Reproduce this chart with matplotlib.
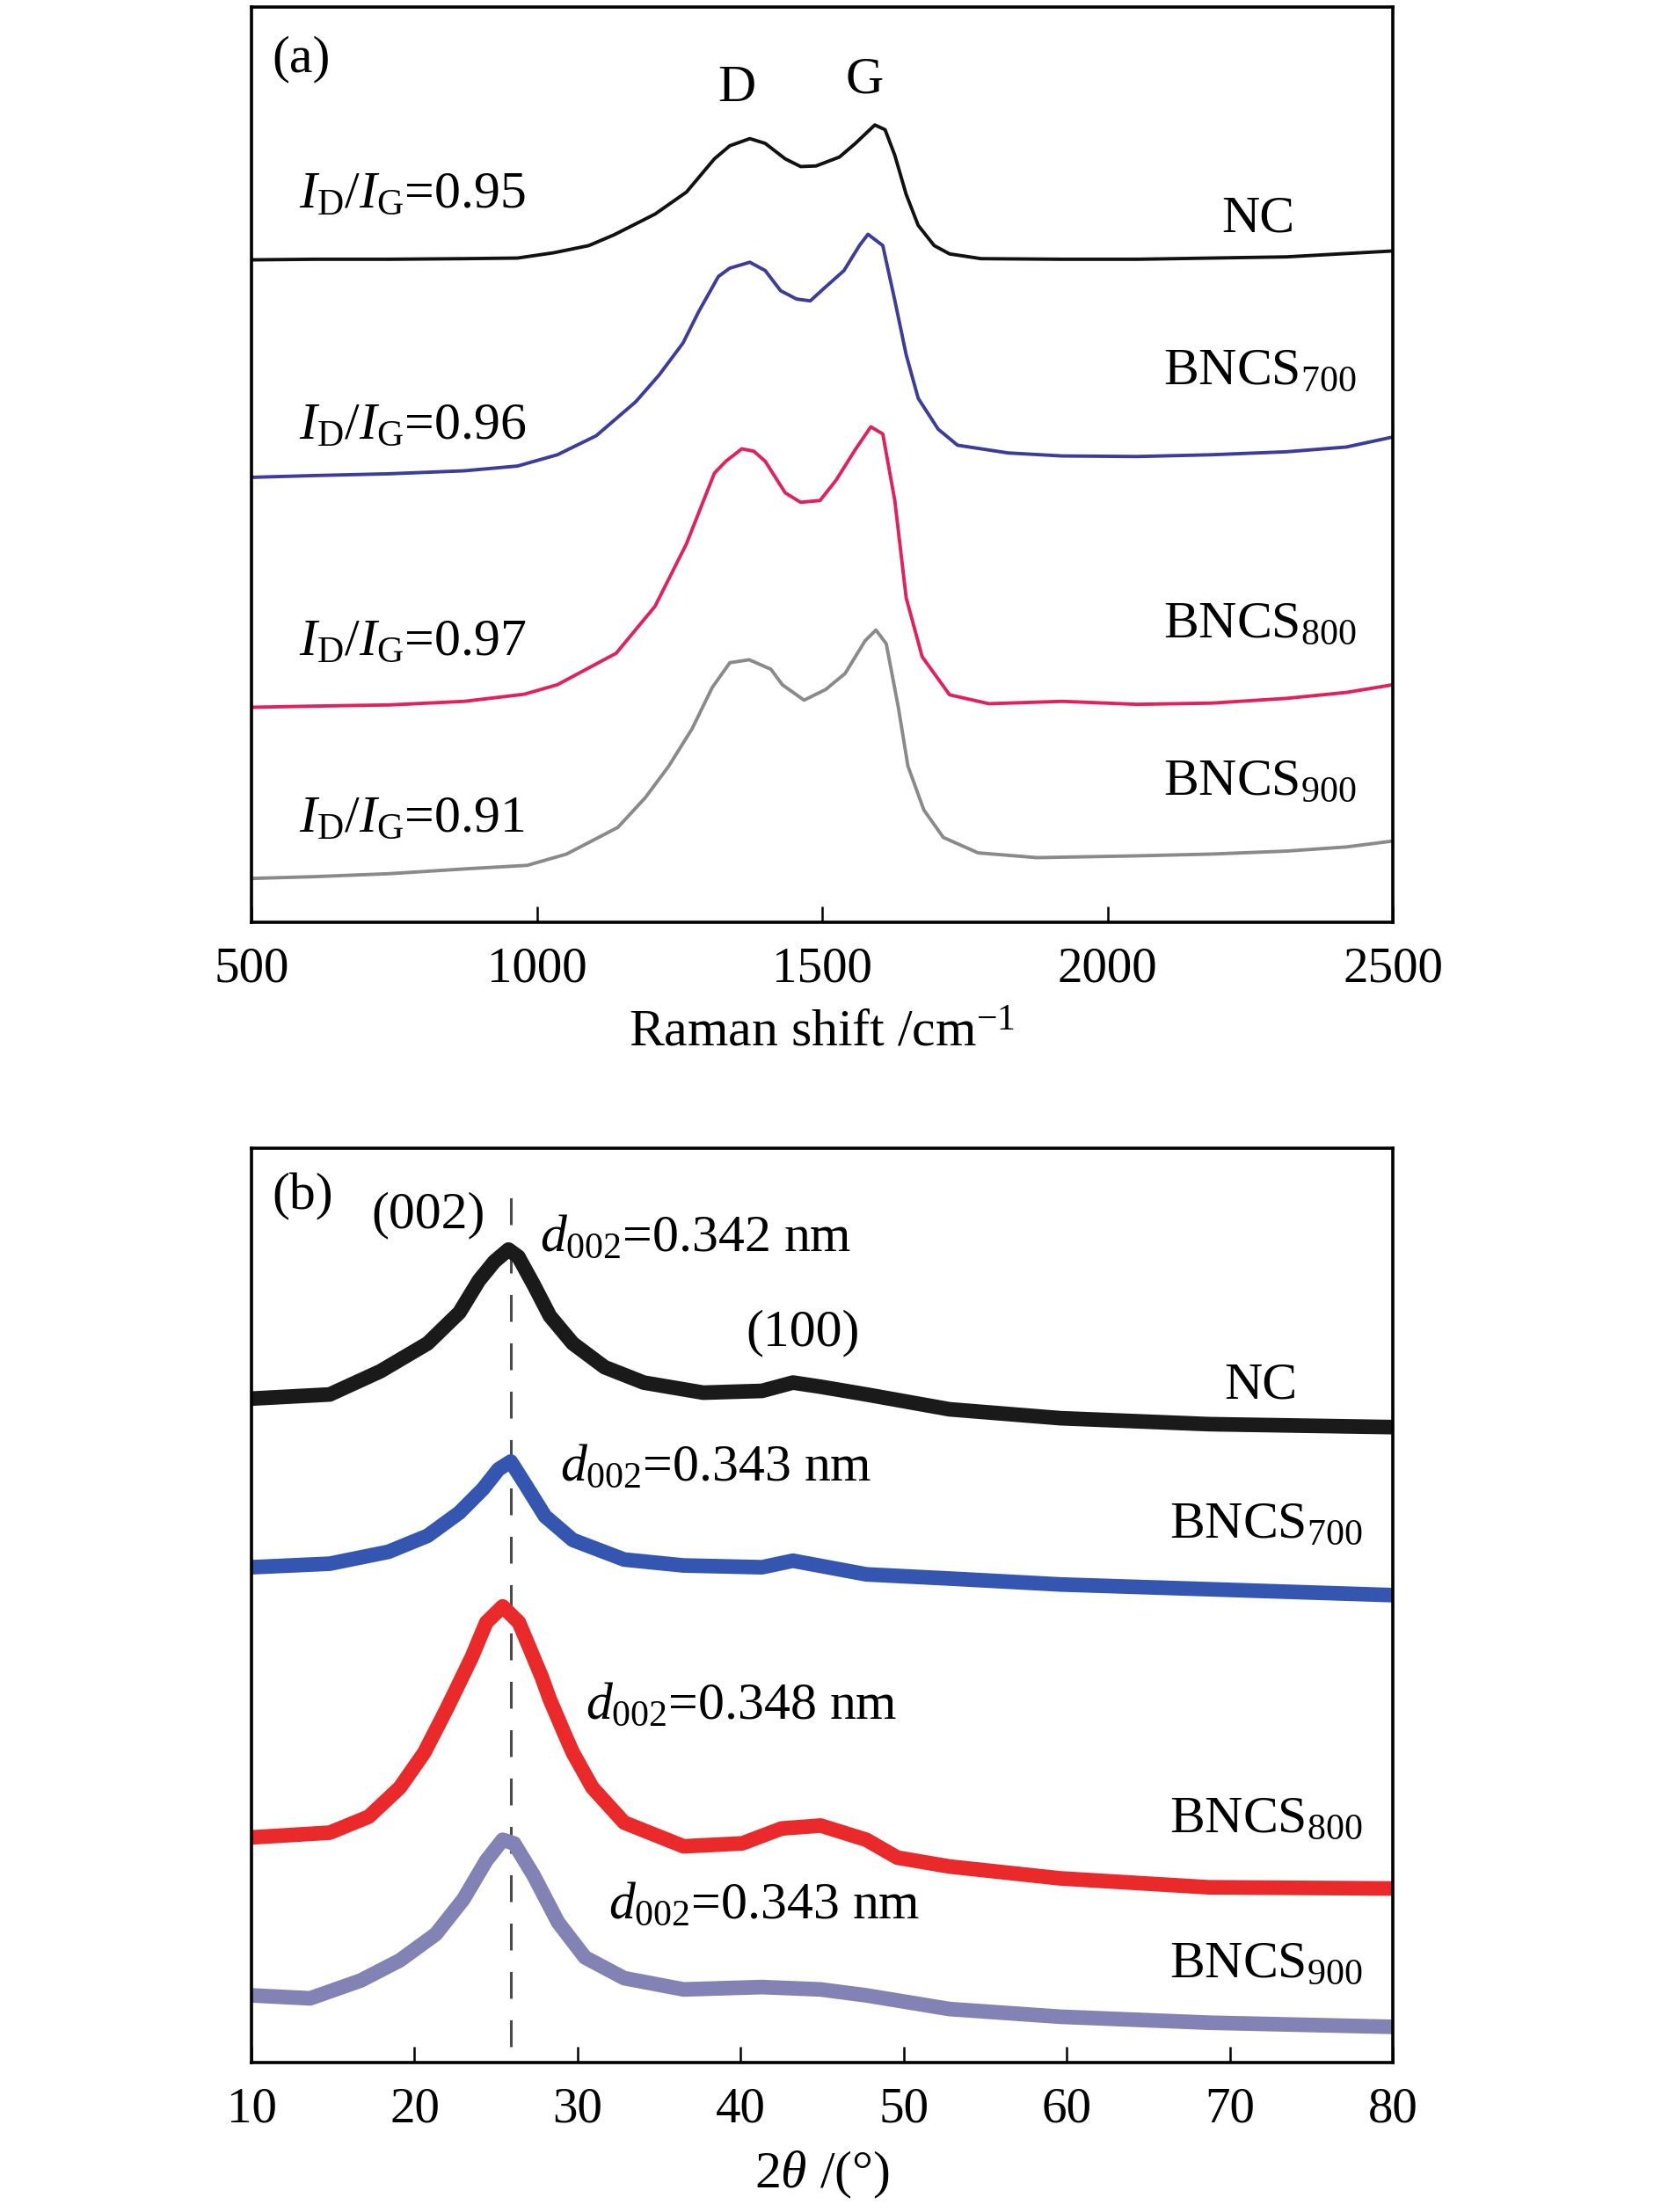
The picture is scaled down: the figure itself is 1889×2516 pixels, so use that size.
import matplotlib
matplotlib.use("Agg")
import matplotlib.pyplot as plt

plt.rcParams['font.family'] = ['Liberation Serif', 'DejaVu Serif']
plt.rcParams['mathtext.fontset'] = 'custom'
plt.rcParams['mathtext.rm'] = 'Liberation Serif'
plt.rcParams['mathtext.it'] = 'Liberation Serif:italic'

# ---------------- Raman data (a) ----------------
nc_raman_x = [500, 611, 742, 873, 966, 1030, 1091, 1135, 1207, 1262, 1311, 1338, 1373, 1400, 1435, 1462, 1489,
              1530, 1558, 1592, 1610, 1627, 1647, 1668, 1696, 1723, 1778, 1920, 2051, 2182, 2313, 2500]
nc_raman_y = [1115, 1116, 1116, 1117, 1118, 1127, 1139, 1157, 1192, 1229, 1285, 1307, 1319, 1311, 1285, 1272, 1273,
              1288, 1311, 1342, 1334, 1291, 1225, 1173, 1139, 1125, 1117, 1116, 1116, 1118, 1120, 1130]

b700_raman_x = [500, 611, 742, 873, 966, 1036, 1104, 1173, 1214, 1256, 1283, 1318, 1338, 1373, 1400, 1427, 1455,
                1479, 1503, 1538, 1565, 1580, 1606, 1627, 1647, 1668, 1703, 1737, 1826, 1920, 2051, 2182, 2313,
                2418, 2500]
b700_raman_y = [749, 752, 755, 760, 768, 787, 819, 876, 921, 975, 1027, 1087, 1101, 1111, 1097, 1063, 1049,
                1046, 1067, 1097, 1139, 1158, 1139, 1047, 955, 882, 830, 803, 790, 785, 784, 787, 792,
                800, 817]

b800_raman_x = [500, 611, 742, 873, 978, 1036, 1139, 1207, 1262, 1311, 1331, 1359, 1380, 1400, 1435, 1462, 1496,
                1524, 1558, 1585, 1606, 1627, 1647, 1675, 1723, 1792, 1920, 2051, 2182, 2313, 2418, 2500]
b800_raman_y = [362, 364, 366, 372, 384, 400, 453, 532, 637, 756, 776, 797, 793, 776, 723, 707, 710,
                744, 796, 834, 822, 710, 546, 447, 383, 368, 372, 367, 369, 377, 387, 400]

b900_raman_x = [500, 611, 742, 873, 983, 1052, 1142, 1190, 1231, 1272, 1307, 1338, 1372, 1410, 1430, 1468, 1506,
                1540, 1575, 1594, 1612, 1633, 1650, 1678, 1712, 1773, 1876, 2051, 2182, 2313, 2418, 2500]
b900_raman_y = [74, 77, 82, 90, 96, 115, 160, 210, 263, 326, 395, 437, 442, 426, 400, 374, 392,
                419, 474, 492, 469, 363, 263, 189, 143, 117, 109, 112, 115, 120, 127, 137]

raman_ticks = [500, 1000, 1500, 2000, 2500]
idig_labels = ['0.95', '0.96', '0.97', '0.91']

# ---------------- XRD data (b) ----------------
nc_xrd_x = [10, 14.8, 17.9, 20.8, 22.75, 23.95, 24.9, 25.76, 26.36, 27.3, 28.3, 29.7, 31.65, 34.05, 37.7, 41.3,
            43.2, 44.9, 47.7, 52.8, 59.6, 68.7, 80]
nc_xrd_y = [1118, 1125, 1164, 1211, 1263, 1317, 1349, 1369, 1357, 1310, 1257, 1211, 1171, 1145, 1128, 1131,
            1145, 1138, 1125, 1100, 1085, 1075, 1070]

b700_xrd_x = [10, 14.8, 18.4, 20.8, 22.75, 24.2, 25.15, 25.9, 26.8, 28.0, 29.7, 32.85, 36.5, 41.3, 43.2, 47.7,
              52.8, 59.6, 68.7, 80]
b700_xrd_y = [834, 840, 860, 887, 926, 966, 999, 1012, 973, 920, 880, 847, 837, 834, 845, 822,
              815, 805, 797, 787]

b800_xrd_x = [10, 14.8, 17.2, 19.1, 20.6, 22.0, 23.5, 24.4, 25.4, 26.4, 27.8, 28.3, 29.25, 29.7, 30.9, 32.85,
              36.5, 40.1, 42.5, 44.9, 47.7, 49.6, 52.8, 59.6, 68.7, 80]
b800_xrd_y = [379, 387, 414, 463, 522, 597, 682, 741, 768, 741, 649, 611, 550, 522, 463, 404,
              364, 369, 394, 399, 375, 345, 330, 310, 295, 293]

b900_xrd_x = [10, 13.6, 16.7, 19.1, 21.3, 23.0, 24.4, 25.4, 26.1, 27.3, 28.8, 30.45, 32.85, 36.5, 41.3, 44.9,
              47.7, 52.8, 59.6, 68.7, 80]
b900_xrd_y = [113, 108, 138, 172, 216, 275, 340, 375, 369, 315, 236, 177, 142, 123, 127, 123,
              113, 90, 77, 67, 60]

xrd_ticks = [10, 20, 30, 40, 50, 60, 70, 80]
d002_peak = 25.9
d002_labels = ['0.342', '0.343', '0.348', '0.343']

sample_names = ['NC', r'BNCS$_{700}$', r'BNCS$_{800}$', r'BNCS$_{900}$']

# ---------------- figure ----------------
fig = plt.figure(figsize=(18.9, 25.16), dpi=100)
ax1 = fig.add_axes([0.1513, 0.583, 0.687, 0.4137])
ax2 = fig.add_axes([0.1513, 0.0676, 0.687, 0.4134])

TICK_FS = 41
TXT_FS = 43

for ax in (ax1, ax2):
    for s in ax.spines.values():
        s.set_linewidth(2.6)
    ax.tick_params(axis='x', direction='in', length=13, width=1.8, labelsize=TICK_FS, pad=20)
    ax.set_yticks([])

# Panel (a)
RLW = 2.8
ax1.plot(nc_raman_x, nc_raman_y, color='#111111', lw=RLW)
ax1.plot(b700_raman_x, b700_raman_y, color='#3c3c9c', lw=RLW)
ax1.plot(b800_raman_x, b800_raman_y, color='#e2215c', lw=RLW)
ax1.plot(b900_raman_x, b900_raman_y, color='#8a8a8a', lw=RLW)
ax1.set_xlim(500, 2500)
ax1.set_ylim(0, 1540)
ax1.set_xticks(raman_ticks)
ax1.set_xlabel(r'Raman shift /cm$^{-1}$', fontsize=TXT_FS, labelpad=14)

ax1.text(0.018, 0.943, '(a)', transform=ax1.transAxes, fontsize=TXT_FS, va='center', ha='left')
ax1.text(0.425, 0.911, 'D', transform=ax1.transAxes, fontsize=TXT_FS, va='center', ha='center')
ax1.text(0.537, 0.920, 'G', transform=ax1.transAxes, fontsize=TXT_FS, va='center', ha='center')
for lab, yy in zip(idig_labels, [0.795, 0.542, 0.306, 0.113]):
    ax1.text(0.0416, yy, r'$I_{\mathrm{D}}/I_{\mathrm{G}}$=' + lab, transform=ax1.transAxes,
             fontsize=TXT_FS, va='center', ha='left')
for name, xx, yy in zip(sample_names, [0.914, 0.968, 0.968, 0.968], [0.768, 0.602, 0.325, 0.153]):
    ax1.text(xx, yy, name, transform=ax1.transAxes, fontsize=TXT_FS, va='center', ha='right')

# Panel (b)
XLW = 12
ax2.axvline(d002_peak, ymin=0.017, ymax=0.96, color='#4a4a4a', lw=2.2, ls=(0, (10, 8)), zorder=1)
ax2.plot(nc_xrd_x, nc_xrd_y, color='#1a1a1a', lw=XLW, solid_joinstyle='round', zorder=2)
ax2.plot(b700_xrd_x, b700_xrd_y, color='#3556b0', lw=XLW, solid_joinstyle='round', zorder=2)
ax2.plot(b800_xrd_x, b800_xrd_y, color='#ea2a2a', lw=XLW, solid_joinstyle='round', zorder=2)
ax2.plot(b900_xrd_x, b900_xrd_y, color='#8282b4', lw=XLW, solid_joinstyle='round', zorder=2)
ax2.set_xlim(10, 80)
ax2.set_ylim(0, 1540)
ax2.set_xticks(xrd_ticks)
ax2.set_xlabel(r'2$\theta$ /(°)', fontsize=TXT_FS, labelpad=14)

ax2.text(0.018, 0.947, '(b)', transform=ax2.transAxes, fontsize=TXT_FS, va='center', ha='left')
ax2.text(0.155, 0.926, '(002)', transform=ax2.transAxes, fontsize=TXT_FS, va='center', ha='center')
ax2.text(0.483, 0.798, '(100)', transform=ax2.transAxes, fontsize=TXT_FS, va='center', ha='center')
for lab, xx, yy in zip(d002_labels, [0.253, 0.270, 0.2925, 0.313], [0.901, 0.650, 0.389, 0.171]):
    ax2.text(xx, yy, r'$d_{\mathrm{002}}$=' + lab + ' nm', transform=ax2.transAxes,
             fontsize=TXT_FS, va='center', ha='left')
for name, xx, yy in zip(sample_names, [0.916, 0.973, 0.973, 0.973], [0.740, 0.587, 0.265, 0.107]):
    ax2.text(xx, yy, name, transform=ax2.transAxes, fontsize=TXT_FS, va='center', ha='right')

fig.savefig('out.png', dpi=100, facecolor='white')
